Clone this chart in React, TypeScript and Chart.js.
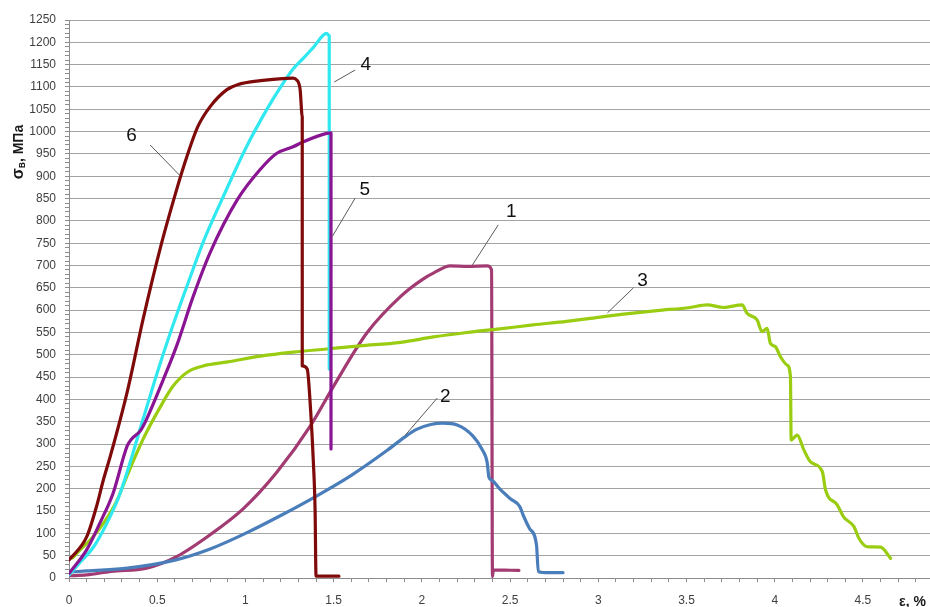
import React, { useEffect, useRef } from "react";
import { Chart, registerables } from "chart.js";

Chart.register(...registerables);

// Strain ε (%) and stress σв (MPa) for each specimen curve
const strain1 = [0, 0.1, 0.24, 0.44, 0.61, 0.8, 0.99, 1.18, 1.37, 1.5, 1.69, 1.88, 2.0, 2.07, 2.16, 2.26, 2.37, 2.395, 2.4, 2.405, 2.55];
const stress1 = [5, 7, 15, 22, 48, 97, 156, 238, 342, 430, 550, 631, 668, 684, 699, 698, 699, 690, 3, 18, 17];

const strain2 = [0, 0.1, 0.33, 0.6, 0.8, 1.0, 1.2, 1.4, 1.6, 1.8, 1.9, 1.97, 2.05, 2.12, 2.2, 2.29, 2.34, 2.37, 2.38, 2.4, 2.44, 2.5, 2.555, 2.575, 2.61, 2.65, 2.66, 2.72, 2.8];
const stress2 = [13, 16, 22, 40, 65, 100, 140, 183, 230, 285, 315, 333, 344, 347, 343, 318, 289, 259, 226, 218, 200, 178, 160, 140, 111, 73, 14, 12, 12];

const strain3 = [0.02, 0.06, 0.12, 0.2, 0.27, 0.33, 0.42, 0.52, 0.59, 0.67, 0.76, 0.9, 1.085, 1.27, 1.46, 1.65, 1.88, 2.065, 2.255, 2.44, 2.63, 2.82, 3.0, 3.143, 3.333, 3.52, 3.616, 3.71, 3.815, 3.843, 3.9, 3.928, 3.957, 3.975, 4.004, 4.032, 4.07, 4.089, 4.093, 4.127, 4.165, 4.203, 4.27, 4.288, 4.354, 4.39, 4.449, 4.477, 4.524, 4.6, 4.657];
const stress3 = [45, 62, 85, 125, 172, 230, 311, 385, 430, 461, 475, 484, 497, 506, 513, 520, 528, 540, 550, 558, 567, 575, 584, 591, 599, 606, 612, 606, 612, 593, 578, 552, 559, 526, 518, 496, 477, 451, 309, 320, 287, 260, 238, 197, 164, 137, 115, 89, 70, 69, 44];

const strain4 = [0, 0.06, 0.14, 0.215, 0.29, 0.42, 0.5, 0.575, 0.665, 0.76, 0.875, 1.006, 1.119, 1.2, 1.27, 1.33, 1.384, 1.46, 1.475, 1.475];
const stress4 = [7, 34, 70, 123, 190, 356, 460, 550, 650, 752, 855, 966, 1048, 1100, 1140, 1165, 1188, 1220, 1215, 468];

const strain5 = [0, 0.1, 0.175, 0.25, 0.33, 0.354, 0.405, 0.44, 0.535, 0.61, 0.705, 0.8, 0.955, 1.081, 1.176, 1.27, 1.327, 1.46, 1.485, 1.485];
const stress5 = [10, 63, 123, 190, 296, 311, 330, 356, 445, 520, 632, 729, 848, 914, 951, 966, 977, 996, 997, 289];

const strain6 = [0, 0.1, 0.155, 0.195, 0.235, 0.33, 0.42, 0.52, 0.61, 0.65, 0.73, 0.8, 0.895, 0.955, 1.085, 1.27, 1.29, 1.31, 1.322, 1.322, 1.35, 1.37, 1.385, 1.395, 1.4, 1.53];
const stress6 = [40, 92, 159, 220, 274, 417, 580, 743, 870, 922, 1011, 1056, 1094, 1105, 1114, 1120, 1116, 1094, 1034, 475, 468, 372, 260, 148, 4, 4];

const curveNames = ["1", "2", "3", "4", "5", "6"];
const curveColors = ["#A23B72", "#4A7EBB", "#9ACD12", "#30E8F0", "#8A1593", "#7F0A0A"];
const curveStrains = [strain1, strain2, strain3, strain4, strain5, strain6];
const curveStresses = [stress1, stress2, stress3, stress4, stress5, stress6];

// Callout numbers with leader lines, in data coordinates
const calloutText = ["6", "4", "5", "1", "2", "3"];
const calloutX = [0.355, 1.682, 1.676, 2.507, 2.133, 3.25];
const calloutY = [991, 1149, 869, 820, 405, 665];
const leaderFromX = [0.46, 1.622, 1.622, 2.433, 2.087, 3.199];
const leaderFromY = [970, 1138, 851, 791, 403, 650];
const leaderToX = [0.63, 1.503, 1.492, 2.286, 1.906, 3.052];
const leaderToY = [901, 1111, 765, 701, 320, 594];

const xMin = 0;
const xMax = 4.88;
const yMin = 0;
const yMax = 1250;

const axisGray = "#8c8c8c";
const gridGray = "#a3a3a3";
const labelColor = "#404040";

const calloutPlugin = {
  id: "callouts",
  afterDatasetsDraw(chart: any) {
    const { ctx, scales } = chart;
    const xs = scales.x;
    const ys = scales.y;
    ctx.save();
    ctx.strokeStyle = "#5a5a5a";
    ctx.lineWidth = 1;
    for (let i = 0; i < calloutText.length; i++) {
      ctx.beginPath();
      ctx.moveTo(xs.getPixelForValue(leaderFromX[i]), ys.getPixelForValue(leaderFromY[i]));
      ctx.lineTo(xs.getPixelForValue(leaderToX[i]), ys.getPixelForValue(leaderToY[i]));
      ctx.stroke();
    }
    ctx.fillStyle = "#111111";
    ctx.font = "19px 'Liberation Sans', Arial, sans-serif";
    ctx.textAlign = "center";
    ctx.textBaseline = "middle";
    for (let i = 0; i < calloutText.length; i++) {
      ctx.fillText(calloutText[i], xs.getPixelForValue(calloutX[i]), ys.getPixelForValue(calloutY[i]));
    }
    ctx.restore();
  },
};

const axisTitlePlugin = {
  id: "axisTitles",
  afterDraw(chart: any) {
    const { ctx, scales } = chart;
    ctx.save();
    // vertical title: σв, МПа
    ctx.translate(18, 152);
    ctx.rotate(-Math.PI / 2);
    ctx.fillStyle = "#1a1a1a";
    ctx.textBaseline = "alphabetic";
    const big = "bold 16px 'Liberation Sans', Arial, sans-serif";
    const small = "bold 10px 'Liberation Sans', Arial, sans-serif";
    const main = "bold 14px 'Liberation Sans', Arial, sans-serif";
    ctx.font = big;
    const w1 = ctx.measureText("σ").width;
    ctx.font = small;
    const w2 = ctx.measureText("в").width;
    ctx.font = main;
    const w3 = ctx.measureText(", МПа").width;
    let x = -(w1 + w2 + w3) / 2;
    ctx.font = big;
    ctx.fillText("σ", x, 5);
    x += w1;
    ctx.font = small;
    ctx.fillText("в", x, 7);
    x += w2;
    ctx.font = main;
    ctx.fillText(", МПа", x, 5);
    ctx.restore();

    // horizontal title: ε, %
    ctx.save();
    ctx.fillStyle = "#1a1a1a";
    ctx.font = "bold 14px 'Liberation Sans', Arial, sans-serif";
    ctx.textAlign = "left";
    ctx.textBaseline = "middle";
    ctx.fillText("ε, %", scales.x.right - 31, 602);
    ctx.restore();
  },
};

export default function App() {
  const canvasRef = useRef<HTMLCanvasElement>(null);

  useEffect(() => {
    const canvas = canvasRef.current;
    if (!canvas) return;

    // highest-numbered curve is drawn on top
    const order = [5, 4, 3, 2, 1, 0];
    const datasets = order.map((k) => ({
      label: curveNames[k],
      data: curveStrains[k].map((x, i) => ({ x, y: curveStresses[k][i] })),
      showLine: true,
      borderColor: curveColors[k],
      backgroundColor: curveColors[k],
      borderWidth: 3.2,
      pointRadius: 0,
      cubicInterpolationMode: "monotone" as const,
      borderJoinStyle: "round" as const,
      borderCapStyle: "round" as const,
      fill: false,
    }));

    const chart = new Chart(canvas, {
      type: "scatter",
      data: { datasets },
      options: {
        responsive: false,
        animation: false,
        devicePixelRatio: 1,
        layout: { padding: { top: 20, right: 0, left: 0, bottom: 0 } },
        plugins: {
          legend: { display: false },
          tooltip: { enabled: false },
        },
        scales: {
          x: {
            type: "linear",
            min: xMin,
            max: xMax,
            afterFit: (scale: any) => {
              scale.height = 29;
            },
            border: { display: true, color: axisGray, width: 1 },
            grid: {
              drawOnChartArea: false,
              drawTicks: true,
              tickLength: 4,
              color: axisGray,
              tickColor: axisGray,
            },
            ticks: {
              stepSize: 0.1,
              autoSkip: false,
              includeBounds: false,
              maxRotation: 0,
              minRotation: 0,
              padding: 11,
              color: labelColor,
              font: { family: "'Liberation Sans', Arial, sans-serif", size: 12 },
              callback: (v: any) => {
                const n = Number(v);
                const half = Math.round(n * 2);
                if (Math.abs(n * 2 - half) > 1e-6) return "";
                return String(half / 2);
              },
            },
          },
          y: {
            type: "linear",
            min: yMin,
            max: yMax,
            afterFit: (scale: any) => {
              scale.width = 69;
            },
            border: { display: true, color: axisGray, width: 1 },
            grid: {
              drawOnChartArea: true,
              drawTicks: true,
              tickLength: 4,
              color: (ctx: any) => {
                const v = ctx.tick ? ctx.tick.value : 0;
                return Math.abs(v % 50) < 1e-6 ? gridGray : "rgba(0,0,0,0)";
              },
              tickColor: axisGray,
            },
            ticks: {
              stepSize: 10,
              autoSkip: false,
              padding: 9,
              color: labelColor,
              font: { family: "'Liberation Sans', Arial, sans-serif", size: 12 },
              callback: (v: any) => {
                const n = Number(v);
                return Math.abs(n % 50) < 1e-6 ? String(Math.round(n)) : "";
              },
            },
          },
        },
      },
      plugins: [calloutPlugin, axisTitlePlugin],
    });

    return () => chart.destroy();
  }, []);

  return (
    <canvas
      ref={canvasRef}
      width={930}
      height={607}
      style={{ position: "fixed", left: 0, top: 0, width: 930, height: 607, background: "#ffffff" }}
    />
  );
}
